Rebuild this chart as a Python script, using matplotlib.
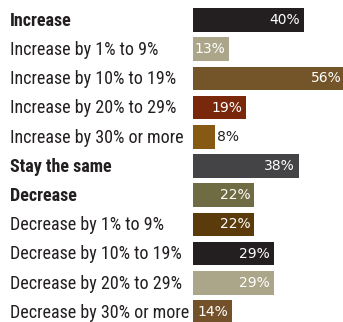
import matplotlib
matplotlib.use("Agg")
import matplotlib.pyplot as plt
from matplotlib.transforms import blended_transform_factory

# Categorias e valores (%)
labels = [
    "Increase",
    "Increase by 1% to 9%",
    "Increase by 10% to 19%",
    "Increase by 20% to 29%",
    "Increase by 30% or more",
    "Stay the same",
    "Decrease",
    "Decrease by 1% to 9%",
    "Decrease by 10% to 19%",
    "Decrease by 20% to 29%",
    "Decrease by 30% or more",
]
values = [40, 13, 56, 19, 8, 38, 22, 22, 29, 29, 14]
bold_rows = ["Increase", "Stay the same", "Decrease"]
colors = [
    "#231f20", "#aba68a", "#74552a", "#79280b", "#875a14", "#444446",
    "#6f6b42", "#5b3b0b", "#231f20", "#aba68a", "#73522b",
]

W, H = 343, 322
fig = plt.figure(figsize=(W / 100, H / 100), dpi=100)

# geometria em pixels
x0 = 193          # início das barras
px_per_pct = 2.78
y_first = 20      # centro da primeira linha
pitch = 29.2

ax = fig.add_axes([x0 / W, 0, (W - x0) / W, 1])
xmax = (W - x0) / px_per_pct
ax.set_xlim(0, xmax)
ax.set_ylim((H - y_first) / pitch, -y_first / pitch)
ax.axis("off")

rows = list(range(len(labels)))
ax.barh(rows, values, height=23.6 / pitch, color=colors, left=0)

value_font = ["DejaVu Sans"]
pad = 4 / px_per_pct
for i, v in enumerate(values):
    if v < 10:
        ax.text(v + 1.5 / px_per_pct, i, f"{v}%", ha="left", va="center",
                color="#231f20", fontsize=10, family=value_font)
    else:
        xt = min(v - pad, xmax - 1.5 / px_per_pct)
        ax.text(xt, i, f"{v}%", ha="right", va="center",
                color="white", fontsize=10, family=value_font)

label_font = ["Roboto Condensed", "Liberation Sans Narrow", "DejaVu Sans"]
trans = blended_transform_factory(fig.transFigure, ax.transData)
for i, lab in enumerate(labels):
    ax.text(10 / W, i + 0.03, lab, transform=trans, ha="left", va="center",
            fontsize=13, color="#231f20", family=label_font,
            fontweight="bold" if lab in bold_rows else "normal",
            clip_on=False)

fig.savefig("out.png", dpi=100)
